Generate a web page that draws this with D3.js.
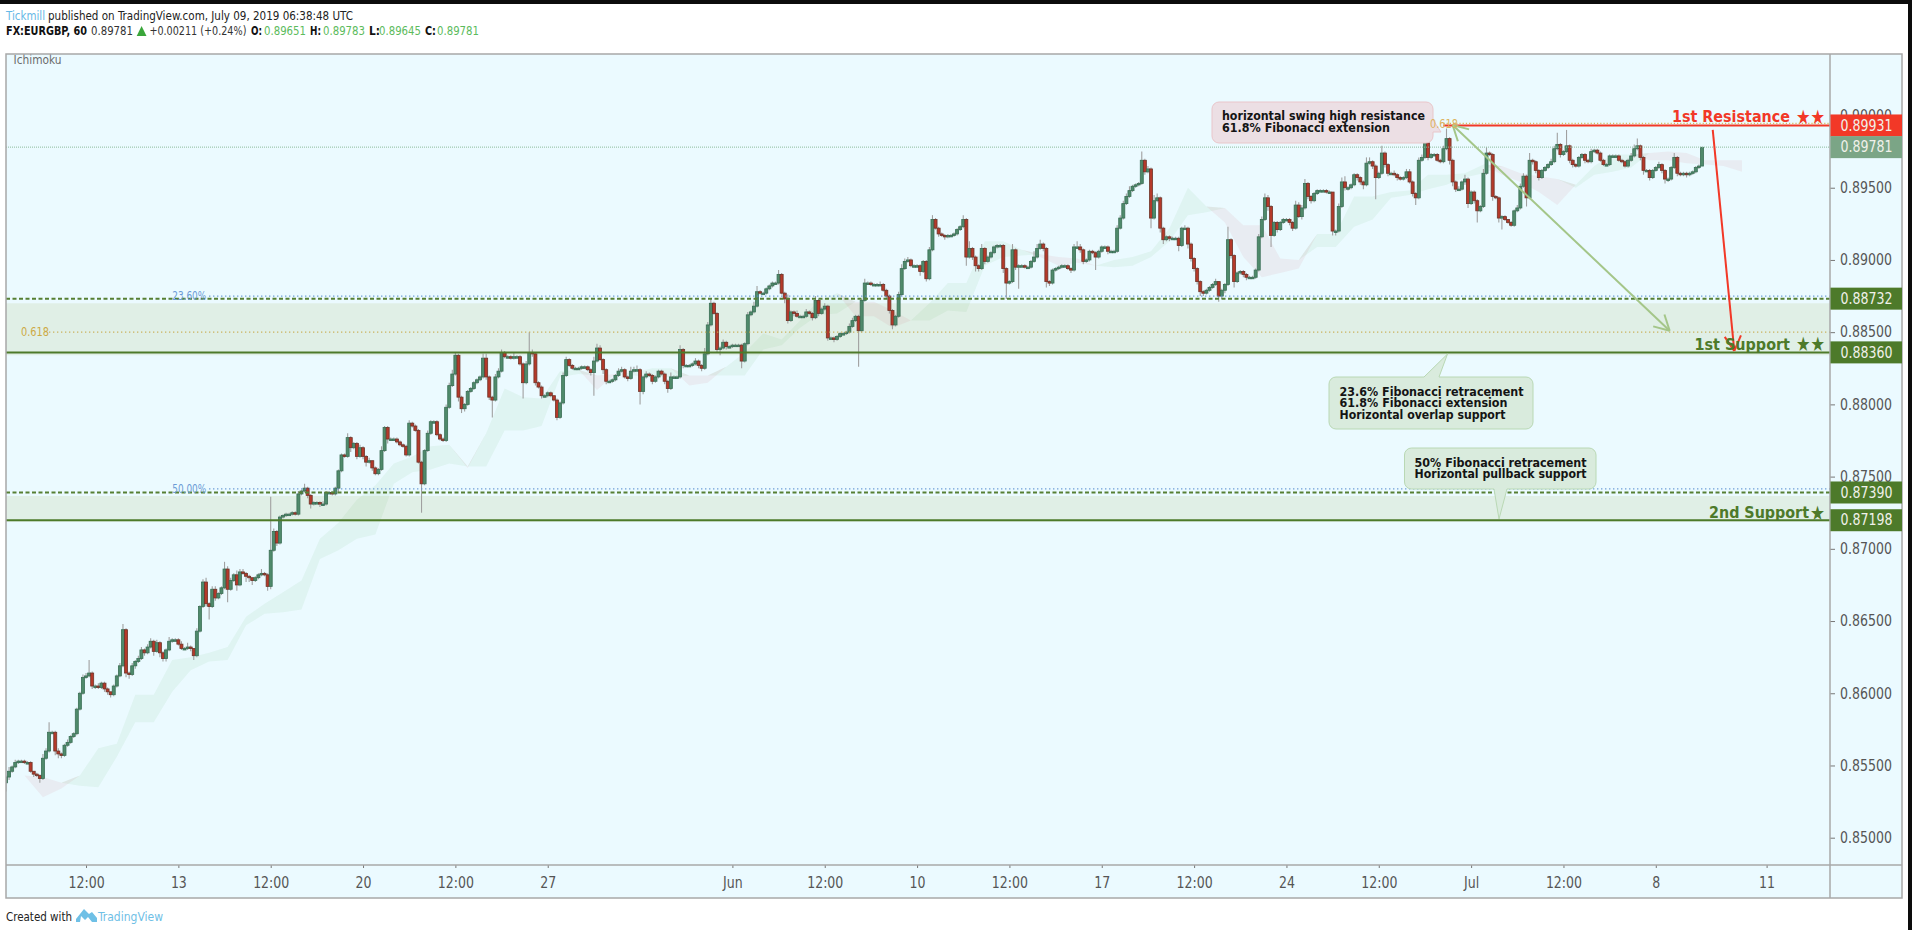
<!DOCTYPE html>
<html>
<head>
<meta charset="utf-8">
<script src="https://cdn.jsdelivr.net/npm/d3@7"></script>
<style>
  html, body { margin: 0; padding: 0; background: #fff; overflow: hidden; }
  text { font-family: "DejaVu Sans Condensed", "DejaVu Sans", sans-serif; }
  .candles { filter: blur(0.45px); }
</style>
</head>
<body>
<svg id="chart" width="1912" height="930"></svg>
<script>
// EURGBP 60, one value per 2 hours, 12 a line = one trading day
// prices in 1/10000
const closes = [
  8542,8546,8549,8552,8553,8553,8552,8552,8546,8544,8543,8541,
  8555,8560,8573,8573,8560,8558,8557,8564,8566,8570,8572,8589,
  8600,8611,8612,8614,8605,8605,8604,8607,8603,8601,8599,8605,
  8612,8619,8644,8614,8613,8619,8622,8624,8630,8628,8632,8636,
  8629,8635,8628,8624,8630,8636,8637,8637,8634,8631,8631,8632,
  8631,8626,8643,8660,8677,8662,8660,8672,8666,8669,8673,8686,
  8672,8678,8682,8675,8684,8683,8681,8680,8678,8680,8682,8683,
  8682,8674,8699,8712,8704,8722,8723,8724,8724,8725,8724,8738,
  8740,8742,8737,8731,8732,8732,8731,8731,8739,8739,8738,8742,
  8754,8765,8764,8777,8770,8773,8764,8770,8764,8760,8761,8756,
  8752,8755,8768,8784,8776,8776,8776,8774,8772,8771,8765,8787,
  8785,8782,8760,8745,8768,8780,8788,8788,8779,8776,8775,8798,
  8813,8821,8834,8805,8797,8800,8809,8811,8815,8817,8819,8832,
  8819,8805,8803,8819,8823,8836,8833,8833,8832,8833,8833,8828,
  8815,8828,8836,8835,8815,8812,8806,8806,8808,8806,8803,8791,
  8801,8820,8831,8827,8825,8825,8825,8826,8826,8824,8822,8830,
  8839,8831,8824,8816,8816,8817,8820,8823,8824,8819,8818,8823,
  8824,8824,8809,8819,8821,8820,8816,8819,8823,8821,8816,8811,
  8819,8819,8819,8838,8827,8827,8827,8828,8830,8827,8825,8835,
  8855,8870,8863,8838,8839,8843,8840,8840,8841,8841,8841,8830,
  8842,8862,8864,8868,8878,8877,8877,8880,8882,8884,8884,8890,
  8877,8873,8858,8864,8863,8861,8861,8861,8864,8863,8860,8872,
  8863,8866,8868,8846,8846,8845,8847,8849,8849,8850,8854,8858,
  8861,8851,8872,8884,8884,8883,8883,8883,8883,8879,8875,8865,
  8855,8861,8876,8894,8899,8900,8896,8896,8896,8892,8899,8887,
  8907,8928,8922,8918,8917,8916,8917,8917,8918,8921,8923,8928,
  8902,8908,8902,8896,8894,8908,8899,8902,8905,8909,8910,8910,
  8894,8884,8885,8907,8895,8896,8896,8895,8895,8899,8902,8908,
  8911,8908,8885,8884,8893,8894,8895,8896,8896,8894,8893,8909,
  8909,8907,8899,8900,8906,8905,8902,8906,8909,8909,8906,8906,
  8906,8922,8929,8939,8944,8948,8951,8952,8953,8969,8961,8963,
  8929,8941,8943,8922,8914,8916,8915,8915,8915,8910,8922,8922,
  8911,8901,8894,8885,8878,8877,8879,8881,8883,8885,8875,8879,
  8883,8914,8903,8885,8891,8892,8890,8888,8888,8888,8893,8916,
  8928,8943,8937,8917,8926,8921,8926,8928,8928,8926,8922,8938,
  8930,8936,8953,8944,8941,8946,8948,8948,8948,8947,8947,8920,
  8920,8937,8954,8950,8950,8952,8959,8957,8954,8952,8967,8968,
  8965,8957,8960,8974,8966,8960,8960,8959,8957,8956,8957,8961,
  8954,8946,8943,8969,8971,8981,8971,8973,8973,8969,8968,8977,
  8984,8969,8954,8949,8949,8954,8956,8939,8947,8941,8934,8937,
  8960,8974,8973,8944,8943,8929,8930,8928,8926,8924,8934,8936,
  8951,8958,8943,8969,8968,8962,8957,8962,8964,8966,8968,8977,
  8980,8973,8975,8979,8969,8966,8965,8971,8973,8969,8968,8975,
  8976,8974,8969,8966,8966,8972,8972,8972,8969,8968,8965,8969,
  8972,8977,8979,8971,8962,8962,8957,8962,8964,8966,8962,8956,
  8956,8964,8971,8960,8959,8960,8959,8960,8961,8964,8965,8978
];
const firstOpen = 8538;

// wick length above / below the body, same units
const wickUp = [
  1,3,1,2,1,1,1,1,1,0,1,1,
  3,2,7,1,1,2,1,1,2,1,1,1,
  1,2,2,9,1,1,2,1,1,1,0,1,
  1,2,4,1,1,2,1,2,2,1,2,2,
  1,2,1,1,1,3,1,1,1,2,1,3,
  1,0,2,1,2,3,1,2,2,1,1,5,
  2,2,1,3,2,2,1,1,0,1,1,3,
  1,1,37,2,1,1,1,1,1,1,1,2,
  1,3,1,1,1,1,1,2,1,1,1,1,
  1,1,1,3,1,1,1,2,1,1,2,0,
  1,1,3,1,1,1,1,1,1,1,1,2,
  1,1,1,1,1,2,1,1,1,1,1,2,
  2,3,2,1,1,1,1,1,1,1,1,3,
  3,1,1,2,2,2,1,1,1,3,1,1,
  1,2,14,2,1,1,1,1,1,1,0,1,
  1,2,2,1,1,1,1,1,1,1,1,3,
  3,2,1,1,1,1,1,2,2,1,1,3,
  2,3,1,1,2,1,1,1,1,1,1,1,
  3,1,1,3,1,1,1,1,2,1,1,4,
  2,3,1,1,1,2,1,1,1,1,1,1,
  1,2,1,3,4,1,1,1,1,1,1,3,
  1,1,3,1,1,2,1,1,2,1,1,3,
  1,1,2,1,1,1,1,1,1,1,2,2,
  1,1,1,3,1,1,1,1,2,1,1,1,
  1,1,2,3,2,2,1,1,1,1,1,1,
  2,3,1,1,1,1,1,1,1,1,1,3,
  1,5,1,1,1,3,1,1,1,1,1,1,
  1,1,1,4,1,1,1,1,1,1,4,3,
  3,1,1,1,1,1,1,1,1,1,1,2,
  4,2,1,1,1,1,1,1,1,1,1,1,
  1,2,2,2,2,3,1,1,1,6,1,2,
  1,4,3,1,1,1,1,1,1,1,1,2,
  1,1,1,1,1,1,1,1,1,2,0,1,
  1,9,1,1,1,1,1,1,1,1,1,2,
  2,3,2,1,1,1,1,1,1,1,1,3,
  2,2,3,1,1,1,1,1,1,1,1,0,
  1,2,3,4,1,1,1,1,1,1,4,3,
  1,1,1,5,1,1,1,2,1,1,1,2,
  2,1,1,2,2,6,1,1,1,1,1,2,
  7,1,1,1,2,1,3,1,1,1,1,1,
  3,4,1,1,1,1,1,1,0,1,1,2,
  2,2,1,5,1,1,1,1,1,1,2,2,
  8,1,1,11,1,1,1,1,1,1,1,2,
  1,1,1,1,1,1,1,1,1,1,1,1,
  2,3,5,1,1,1,1,1,1,2,1,1,
  1,1,3,1,1,1,1,1,1,1,1,0
];
const wickDown = [
  6,2,1,1,1,1,1,1,1,2,1,3,
  1,1,1,1,3,3,2,1,1,1,1,1,
  1,1,1,1,2,2,1,1,2,2,2,1,
  1,1,1,3,3,1,2,1,1,2,1,1,
  3,1,3,2,2,1,1,1,1,1,1,1,
  2,3,1,1,1,2,9,1,2,1,1,1,
  9,1,1,4,1,1,4,3,3,1,1,1,
  1,3,2,1,2,1,1,1,1,1,1,1,
  1,1,2,3,1,1,2,1,1,1,1,1,
  3,1,1,1,3,1,2,1,2,3,1,2,
  1,1,1,1,3,1,1,1,1,1,1,1,
  1,1,1,20,1,1,1,1,1,1,1,1,
  1,1,1,3,3,2,1,1,1,1,1,1,
  2,2,12,1,1,1,1,1,1,1,1,1,
  11,1,1,2,2,1,2,1,1,1,1,2,
  1,1,1,1,1,1,1,1,1,1,2,16,
  1,1,3,2,1,1,1,1,1,1,2,1,
  1,1,9,2,1,1,2,1,1,1,2,3,
  1,1,1,1,2,1,1,1,1,2,2,1,
  1,1,1,2,4,1,2,1,1,1,1,5,
  1,1,1,1,1,1,1,1,1,1,1,1,
  1,3,2,1,2,1,1,1,1,1,2,1,
  2,1,1,2,1,2,1,1,1,1,1,1,
  1,25,1,1,1,1,1,1,1,1,2,2,
  3,1,1,1,1,1,1,1,1,3,1,2,
  1,1,1,2,1,2,1,1,1,1,1,1,
  6,1,2,4,2,1,2,1,1,1,1,1,
  3,11,1,1,2,15,1,1,1,1,1,1,
  1,2,4,2,1,1,1,1,1,1,2,1,
  1,2,2,1,1,1,9,1,1,1,2,1,
  1,1,1,1,1,1,1,1,1,1,2,1,
  7,1,1,3,3,1,2,1,1,4,1,1,
  3,2,2,2,3,2,1,1,1,1,4,2,
  2,1,2,4,1,1,2,2,1,1,1,1,
  1,1,3,8,1,2,1,1,1,2,2,1,
  1,2,1,2,2,1,1,1,1,1,1,3,
  3,1,1,2,2,1,1,2,2,3,1,1,
  2,15,1,1,2,2,1,1,2,1,1,1,
  1,2,5,1,1,1,2,1,1,1,1,1,
  1,3,3,2,1,1,2,3,1,2,8,1,
  1,1,1,3,1,3,8,1,1,1,1,1,
  1,1,6,1,2,2,2,1,1,1,1,1,
  1,2,1,1,2,2,1,1,1,2,1,1,
  1,1,1,1,1,1,1,1,1,1,1,1,
  1,1,1,2,3,1,2,1,1,1,2,3,
  2,1,1,2,1,1,2,1,1,1,1,0
];
const barHours = 2;

// ichimoku span A / B, one point per 12 hours from hour 12
const spanA = [
  8543,8528,8534,8543,8562,8565,8599,8599,8623,8625,8628,8632,8653,8662,8670,8678,
  8707,8718,8734,8744,8759,8764,8771,8772,8756,8780,8811,8805,8804,8823,8824,8810,
  8821,8822,8825,8825,8813,8815,8826,8836,8849,8845,8858,8872,8877,8861,8861,8853,
  8858,8870,8884,8884,8913,8913,8907,8902,8896,8898,8896,8900,8902,8906,8922,8950,
  8937,8926,8902,8888,8891,8894,8918,8918,8944,8944,8947,8948,8959,8959,8960,8966,
  8959,8954,8947,8938,8952,8965,8973,8973,8969,8969,8967,8966,8965,8961
];
const spanB = [
  8543,8542,8538,8536,8535,8556,8580,8580,8601,8616,8622,8623,8647,8655,8656,8658,
  8693,8699,8707,8710,8745,8753,8755,8759,8757,8757,8782,8782,8785,8819,8821,8820,
  8821,8820,8819,8819,8820,8820,8820,8820,8838,8841,8853,8862,8863,8871,8871,8865,
  8858,8858,8865,8864,8896,8902,8903,8904,8902,8901,8896,8895,8896,8902,8913,8931,
  8933,8936,8924,8924,8901,8900,8909,8909,8923,8928,8943,8945,8949,8952,8957,8960,
  8965,8960,8958,8956,8950,8959,8961,8964,8974,8975,8974,8969,8969,8969
];
const cloudStepHours = 12;

const priceTicks = [0.85,0.855,0.86,0.865,0.87,0.875,0.88,0.885,0.89,0.895,0.9];
const timeTickHours = [52,112,172,232,292,352,472,532,592,652,712,772,832,892,952,1012,1072,1144];
const timeTickLabels = ["12:00","13","12:00","20","12:00","27","Jun","12:00","10","12:00","17","12:00","24","12:00","Jul","12:00","8","11"];

const supportLevels = [0.88732, 0.8739];
const floorLevels = [0.8836, 0.87198];
const fibLevels = [0.8875, 0.87415];
const fibNames = ["23.60%", "50.00%"];
const zoneTops = [0.8870, 0.87366];
const zoneBottoms = [0.8834, 0.87188];
const resistancePrice = 0.89931;
const fibExtensionHigh = 0.89945;
const fibExtensionLow = 0.885;
const lastPrice = 0.89781;

const greenArrow = [[940, 0.89934], [1081, 0.8851]];
const redArrow = [[1109, 0.8990], [1123, 0.8837]];

const UP = "#4f8a6b", UP_EDGE = "#3a6e55", DOWN = "#b5392a", DOWN_EDGE = "#6d3429", WICK = "#a0a0a0";
const RED = "#f23827", DARKGREEN = "#4d7a2a", GREYGREEN = "#7ba586", BOX = "#a8a8a8", AXISTEXT = "#555";

const svg = d3.select("#chart");
const pane = {left: 6, right: 1830, top: 54, bottom: 865, outerRight: 1902, outerBottom: 898};

const x = d3.scaleLinear().domain([0, 1185]).range([6, 1829.7]);
const y = d3.scaleLinear().domain([0.85, 0.90]).range([837.7, 115.5]);
const pips = v => v / 10000;

// page + pane background
svg.append("rect").attr("width", 1912).attr("height", 4).attr("fill", "#0c0c0c");
svg.append("rect").attr("x", 1908).attr("width", 4).attr("height", 930).attr("fill", "#0c0c0c");
svg.append("rect").attr("x", pane.left).attr("y", pane.top)
  .attr("width", pane.outerRight - pane.left).attr("height", pane.outerBottom - pane.top)
  .attr("fill", "#ebfaff");

svg.append("defs").append("clipPath").attr("id", "plot").append("rect")
  .attr("x", pane.left).attr("y", pane.top)
  .attr("width", pane.right - pane.left).attr("height", pane.bottom - pane.top);
const plot = svg.append("g").attr("clip-path", "url(#plot)");

// zones
plot.selectAll("rect.zone").data(zoneTops).join("rect").attr("class", "zone")
  .attr("x", pane.left).attr("width", pane.right - pane.left)
  .attr("y", d => y(d))
  .attr("height", (d, i) => y(zoneBottoms[i]) - y(d))
  .attr("fill", "#e0efe6");

// cloud
const cloudX = (d, i) => x((i + 1) * cloudStepHours);
const cloud = spanA.map((a, i) => ({a: pips(a), b: pips(spanB[i])}));
plot.append("path").datum(cloud)
  .attr("d", d3.area().x(cloudX).y0(d => y(d.b)).y1(d => y(Math.max(d.a, d.b))))
  .attr("fill", "#3aa040").attr("fill-opacity", 0.065);
plot.append("path").datum(cloud)
  .attr("d", d3.area().x(cloudX).y0(d => y(d.a)).y1(d => y(Math.max(d.a, d.b))))
  .attr("fill", "#d06070").attr("fill-opacity", 0.09);

// candles
const bars = closes.map((c, i) => {
  const o = i ? closes[i - 1] : firstOpen;
  return {
    h: i * barHours,
    o: pips(o), c: pips(c),
    hi: pips(Math.max(o, c) + wickUp[i]),
    lo: pips(Math.min(o, c) - wickDown[i])
  };
});
const candles = plot.append("g").attr("class", "candles");
candles.selectAll("line").data(bars).join("line")
  .attr("x1", d => x(d.h)).attr("x2", d => x(d.h))
  .attr("y1", d => y(d.hi)).attr("y2", d => y(d.lo))
  .attr("stroke", WICK).attr("stroke-width", 1.1);
candles.selectAll("rect").data(bars).join("rect")
  .attr("x", d => x(d.h) - 1.5).attr("width", 3)
  .attr("y", d => y(Math.max(d.o, d.c)))
  .attr("height", d => Math.max(1.5, Math.abs(y(d.o) - y(d.c))))
  .attr("fill", d => d.c >= d.o ? UP : DOWN)
  .attr("stroke", d => d.c >= d.o ? UP_EDGE : DOWN_EDGE)
  .attr("stroke-width", 0.8);

// level lines
function hline(price, from, stroke, width, dash) {
  return plot.append("line")
    .attr("x1", x(from)).attr("x2", pane.right)
    .attr("y1", y(price)).attr("y2", y(price))
    .attr("stroke", stroke).attr("stroke-width", width)
    .attr("stroke-dasharray", dash || null);
}
hline(lastPrice, 0, "#8dbb9c", 1, "1 1");
fibLevels.forEach(p => hline(p, 132, "#5b8fd0", 1.2, "1.2 2.8"));
supportLevels.forEach(p => hline(p, 0, "#567f33", 2, "4 2.5"));
floorLevels.forEach(p => hline(p, 0, DARKGREEN, 2));
hline(fibExtensionLow, 28, "#c9ac4e", 1.2, "1.2 2.8");
hline(fibExtensionHigh, 934, "#d8b95a", 1.2, "1.2 2");
hline(resistancePrice, 934, RED, 2);

// arrows
function arrowHead(tip, from, color, len) {
  const a = Math.atan2(y(from[1]) - y(tip[1]), x(from[0]) - x(tip[0]));
  [-0.5, 0.5].forEach(da => {
    plot.append("line")
      .attr("x1", x(tip[0])).attr("y1", y(tip[1]))
      .attr("x2", x(tip[0]) + len * Math.cos(a + da))
      .attr("y2", y(tip[1]) + len * Math.sin(a + da))
      .attr("stroke", color).attr("stroke-width", 2);
  });
}
function arrow(pts, color, both) {
  plot.append("line")
    .attr("x1", x(pts[0][0])).attr("y1", y(pts[0][1]))
    .attr("x2", x(pts[1][0])).attr("y2", y(pts[1][1]))
    .attr("stroke", color).attr("stroke-width", 2);
  arrowHead(pts[1], pts[0], color, 17);
  if (both) arrowHead(pts[0], pts[1], color, 17);
}
arrow(greenArrow, "#a4c689", true);
arrow(redArrow, RED, false);

function label(parent, lx, ly, t, o) {
  o = o || {};
  const el = parent.append("text")
    .attr("x", lx).attr("y", ly).attr("dy", "0.35em")
    .attr("font-size", o.size || 11)
    .attr("font-weight", o.weight || "normal")
    .attr("fill", o.fill || "#222")
    .attr("text-anchor", o.anchor || "start")
    .text(t);
  if (o.w) el.attr("textLength", o.w).attr("lengthAdjust", "spacingAndGlyphs");
  return el;
}

// callouts
function calloutPath(b, r, tail) {
  const p = d3.path();
  p.moveTo(b.x0 + r, b.y0);
  if (tail.edge === "top") { p.lineTo(tail.a, b.y0); p.lineTo(tail.tipX, tail.tipY); p.lineTo(tail.b, b.y0); }
  p.lineTo(b.x1 - r, b.y0);
  p.arcTo(b.x1, b.y0, b.x1, b.y0 + r, r);
  if (tail.edge === "right") { p.lineTo(b.x1, tail.a); p.lineTo(tail.tipX, tail.tipY); p.lineTo(b.x1, tail.b); }
  p.lineTo(b.x1, b.y1 - r);
  p.arcTo(b.x1, b.y1, b.x1 - r, b.y1, r);
  if (tail.edge === "bottom") { p.lineTo(tail.b, b.y1); p.lineTo(tail.tipX, tail.tipY); p.lineTo(tail.a, b.y1); }
  p.lineTo(b.x0 + r, b.y1);
  p.arcTo(b.x0, b.y1, b.x0, b.y1 - r, r);
  p.lineTo(b.x0, b.y0 + r);
  p.arcTo(b.x0, b.y0, b.x0 + r, b.y0, r);
  p.closePath();
  return p.toString();
}
const callouts = [
  {box: {x0: 1212, y0: 102, x1: 1433, y1: 143}, tail: {edge: "right", a: 120, b: 132, tipX: 1441, tipY: 132},
   fill: "#ecdfe4", stroke: "#e9c6ca", textX: 1222,
   lines: ["horizontal swing high resistance", "61.8% Fibonacci extension"], widths: [203, 168], ys: [116, 127.5]},
  {box: {x0: 1329, y0: 377, x1: 1533, y1: 429}, tail: {edge: "top", a: 1424, b: 1439, tipX: 1447.5, tipY: 354},
   fill: "#d9ebdd", stroke: "#b9d8b4", textX: 1339.5,
   lines: ["23.6% Fibonacci retracement", "61.8% Fibonacci extension", "Horizontal overlap support"], widths: [184, 168, 166], ys: [391.5, 403, 414.5]},
  {box: {x0: 1404.5, y0: 448, x1: 1596, y1: 489}, tail: {edge: "bottom", a: 1494, b: 1507, tipX: 1499, tipY: 519},
   fill: "#d9ebdd", stroke: "#b9d8b4", textX: 1414.6,
   lines: ["50% Fibonacci retracement", "Horizontal pullback support"], widths: [172, 172], ys: [462.5, 474]}
];
callouts.forEach(c => {
  plot.append("path").attr("d", calloutPath(c.box, 7, c.tail))
    .attr("fill", c.fill).attr("stroke", c.stroke).attr("stroke-width", 1);
  c.lines.forEach((t, i) => {
    label(plot, c.textX, c.ys[i], t, {size: 11.5, weight: "bold", fill: "#141414", w: c.widths[i]});
  });
});

// fib labels
fibNames.forEach((t, i) => label(plot, x(108), y(fibLevels[i]), t, {size: 12, fill: "#6a9bd6", w: 34}));
label(plot, 21, y(fibExtensionLow), "0.618", {size: 12, fill: "#cdaa45", w: 28});
label(plot, 1430, y(fibExtensionHigh), "0.618", {size: 12, fill: "#dcb45e", w: 28});

// level captions, stars sized on their own
const captionFont = {size: 16, weight: "bold"};
label(plot, 1672, 116.5, "1st Resistance", {...captionFont, fill: RED, w: 118});
label(plot, 1825, 116.5, "★★", {size: 20, weight: "bold", fill: RED, anchor: "end", w: 29});
label(plot, 1694.5, 344, "1st Support", {...captionFont, fill: DARKGREEN, w: 95.5});
label(plot, 1825, 344, "★★", {size: 20, weight: "bold", fill: DARKGREEN, anchor: "end", w: 29});
label(plot, 1709, 512.5, "2nd Support", {...captionFont, fill: DARKGREEN, w: 100});
label(plot, 1825, 512.5, "★", {size: 20, weight: "bold", fill: DARKGREEN, anchor: "end", w: 15});

label(svg, 13.5, 60, "Ichimoku", {size: 12.5, fill: "#6c6c6c", w: 48});

// axes
const yAxis = svg.append("g").attr("transform", `translate(${pane.right},0)`)
  .call(d3.axisRight(y).tickValues(priceTicks).tickFormat(d3.format(".5f")).tickSize(5).tickPadding(5));
const xAxis = svg.append("g").attr("transform", `translate(0,${pane.bottom})`)
  .call(d3.axisBottom(x).tickValues(timeTickHours).tickFormat((d, i) => timeTickLabels[i]).tickSize(3).tickPadding(9));
[yAxis, xAxis].forEach(a => {
  a.select(".domain").remove();
  a.selectAll("line").attr("stroke", "#777");
  a.selectAll("text").attr("font-size", 15).attr("fill", AXISTEXT)
    .style("font-family", '"DejaVu Sans Condensed", "DejaVu Sans", sans-serif')
    .each(function() {
      this.setAttribute("textLength", this.getComputedTextLength() * 0.93);
      this.setAttribute("lengthAdjust", "spacingAndGlyphs");
    });
});

// pane frame
const frame = svg.append("g").attr("stroke", BOX).attr("fill", "none");
frame.append("rect").attr("x", pane.left).attr("y", pane.top)
  .attr("width", pane.outerRight - pane.left).attr("height", pane.outerBottom - pane.top).attr("stroke-width", 1.5);
frame.append("line").attr("x1", pane.right).attr("x2", pane.right).attr("y1", pane.top).attr("y2", pane.outerBottom).attr("stroke-width", 1.5);
frame.append("line").attr("x1", pane.left).attr("x2", pane.outerRight).attr("y1", pane.bottom).attr("y2", pane.bottom).attr("stroke-width", 1.5);

// price tags on the axis
const tags = [
  {p: resistancePrice, fill: RED},
  {p: lastPrice, fill: GREYGREEN},
  {p: supportLevels[0], fill: DARKGREEN},
  {p: floorLevels[0], fill: DARKGREEN},
  {p: supportLevels[1], fill: DARKGREEN},
  {p: floorLevels[1], fill: DARKGREEN}
];
const tagG = svg.append("g").selectAll("g").data(tags).join("g")
  .attr("transform", d => `translate(${pane.right + 0.5},${y(d.p)})`);
tagG.append("rect").attr("y", -11).attr("width", pane.outerRight - pane.right - 0.5).attr("height", 22)
  .attr("fill", d => d.fill);
tagG.append("text").attr("x", 10).attr("dy", "0.35em").attr("font-size", 15).attr("fill", "#f1f1ea")
  .attr("textLength", 52).attr("lengthAdjust", "spacingAndGlyphs")
  .text(d => d3.format(".5f")(d.p));

// header
label(svg, 6, 15.5, "Tickmill", {size: 13, fill: "#66b8e6", w: 39});
label(svg, 48, 15.5, "published on TradingView.com, July 09, 2019 06:38:48 UTC", {size: 13, fill: "#222", w: 305});
label(svg, 6, 31, "FX:EURGBP, 60", {size: 11.5, weight: "bold", fill: "#111", w: 81});
label(svg, 91, 31, "0.89781", {size: 11.5, fill: "#333", w: 42});
svg.append("path").attr("d", "M141.6 26 L146.5 36 L136.7 36 Z").attr("fill", "#3aa63a");
label(svg, 149.4, 31, "+0.00211 (+0.24%)", {size: 11.5, fill: "#333", w: 97});
const ohlcNames = ["O:", "H:", "L:", "C:"];
const ohlcValues = ["0.89651", "0.89783", "0.89645", "0.89781"];
const ohlcNameX = [251, 310, 369, 425];
const ohlcValueX = [264, 323, 379, 437];
ohlcNames.forEach((n, i) => {
  label(svg, ohlcNameX[i], 31, n, {size: 11.5, weight: "bold", fill: "#111", w: 11});
  label(svg, ohlcValueX[i], 31, ohlcValues[i], {size: 11.5, fill: "#5cbb5c", w: 42});
});

// footer
label(svg, 6, 916, "Created with", {size: 13, fill: "#222", w: 66});
svg.append("path")
  .attr("d", "M76 922 L76 919 L84 909 L89 914 L92 912 L97 918 L97 922 L92 922 L88 917 L85 920 L81 916 L80 922 Z")
  .attr("fill", "#6fc0e6");
label(svg, 98, 916, "TradingView", {size: 13, fill: "#6fc0e6", w: 65});
</script>
</body>
</html>
